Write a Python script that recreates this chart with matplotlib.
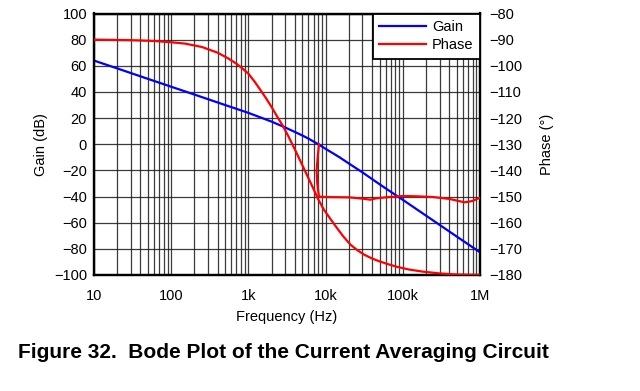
import matplotlib
matplotlib.use("Agg")
import matplotlib.pyplot as plt
from matplotlib.ticker import LogLocator, FixedLocator, NullFormatter

plt.rcParams['font.family'] = ['Liberation Sans', 'DejaVu Sans']

# ---- data ----
gain_freq = [10, 20, 50, 100, 200, 500, 1e3, 2e3, 3e3, 4e3, 5e3, 6e3, 8e3, 1e4,
             1.5e4, 2e4, 3e4, 5e4, 1e5, 2e5, 5e5, 1e6]
gain_db = [64, 58, 50, 44, 38, 30, 24, 17.3, 12.8, 9.4, 6.7, 4.3, 0.1, -3.5,
           -9.8, -14.7, -21.5, -30.6, -42.5, -54.6, -70.6, -82.6]

phase_freq = [10, 30, 60, 100, 150, 250, 400, 550, 700, 850, 1e3, 1.2e3, 1.45e3,
              1.7e3, 2e3, 2.4e3, 2.8e3, 3.3e3, 4e3, 5e3, 6e3, 7e3, 8e3, 9.5e3,
              1.15e4, 1.4e4, 1.7e4, 2.1e4, 2.6e4, 3.2e4, 4e4, 5e4, 6.5e4, 8.5e4,
              1.2e5, 1.8e5, 3e5, 5e5, 1e6]
phase_deg = [-90, -90.2, -90.5, -91, -91.5, -92.8, -95, -97.2, -99.2, -101.2, -103,
             -106, -109.5, -112.5, -115.8, -119.8, -123, -127, -132, -138, -143,
             -147.2, -151, -155, -158.5, -162, -165.3, -168.4, -170.6, -172.3,
             -173.7, -174.8, -175.9, -176.9, -177.9, -178.7, -179.4, -179.8, -180]

branch_freq = [8.2e3, 7.9e3, 7.65e3, 7.8e3, 8.2e3, 1e4, 2e4, 3e4, 3.8e4, 4.5e4, 6e4,
               1e5, 1.5e5, 2.5e5, 4e5, 6.3e5, 8e5, 1e6]
branch_deg = [-130, -135, -140, -145, -150, -150.2, -150.3, -150.8, -151.2, -150.7,
              -150.3, -149.8, -149.9, -150.2, -150.9, -152.2, -151.7, -150.4]

x_ticks = [10, 100, 1e3, 1e4, 1e5, 1e6]
x_labels = ["10", "100", "1k", "10k", "100k", "1M"]
gain_ticks = list(range(-100, 101, 20))
phase_ticks = list(range(-180, -79, 10))

W, H = 640, 391
fig = plt.figure(figsize=(W / 100, H / 100), dpi=100)
ax = fig.add_axes([94 / W, 1 - 275 / H, (480 - 94) / W, (275 - 13.5) / H])
ax2 = ax.twinx()

ax.set_xscale('log')
ax.set_xlim(10, 1e6)
ax.set_ylim(-100, 100)
ax2.set_ylim(-180, -80)

ax.xaxis.set_major_locator(FixedLocator(x_ticks))
ax.set_xticklabels(x_labels)
ax.xaxis.set_minor_locator(LogLocator(base=10, subs=range(2, 10), numticks=20))
ax.xaxis.set_minor_formatter(NullFormatter())
ax.set_yticks(gain_ticks)
ax2.set_yticks(phase_ticks)

gcol = '#1a1a1a'
ax.grid(True, which='major', axis='both', color=gcol, lw=0.9, alpha=0.85)
ax.grid(True, which='minor', axis='x', color=gcol, lw=0.9, alpha=0.85)

FS = 10.5
for a in (ax, ax2):
    a.tick_params(which='both', length=0, labelsize=FS, colors='black')
    for s in a.spines.values():
        s.set_linewidth(1.6)
        s.set_color('black')
ax.tick_params(axis='x', pad=10)
ax.tick_params(axis='y', pad=5)
ax2.tick_params(axis='y', pad=7)

l1, = ax.plot(gain_freq, gain_db, color='#0000ff', lw=1.6, label='Gain', zorder=3)
l2, = ax2.plot(phase_freq, phase_deg, color='#ff0000', lw=1.6, label='Phase', zorder=3)
ax2.plot(branch_freq, branch_deg, color='#ff0000', lw=1.6, zorder=3)

ax.set_xlabel('Frequency (Hz)', fontsize=FS, labelpad=5)
ax.set_ylabel('Gain (dB)', fontsize=FS, labelpad=4)
ax2.set_ylabel('Phase (°)', fontsize=FS, labelpad=12)

leg = ax2.legend(handles=[l1, l2], loc='upper right', fontsize=FS, frameon=True,
                 fancybox=False, framealpha=1, edgecolor='black',
                 borderaxespad=0, handlelength=3.2, handletextpad=0.4,
                 borderpad=0.45, labelspacing=0.3)
leg.get_frame().set_linewidth(1.3)
leg.set_zorder(10)

fig.text(18 / W, 1 - 352 / H, 'Figure 32.  Bode Plot of the Current Averaging Circuit',
         fontsize=15, fontweight='bold', va='center', ha='left')

fig.savefig('out.png', dpi=100)
